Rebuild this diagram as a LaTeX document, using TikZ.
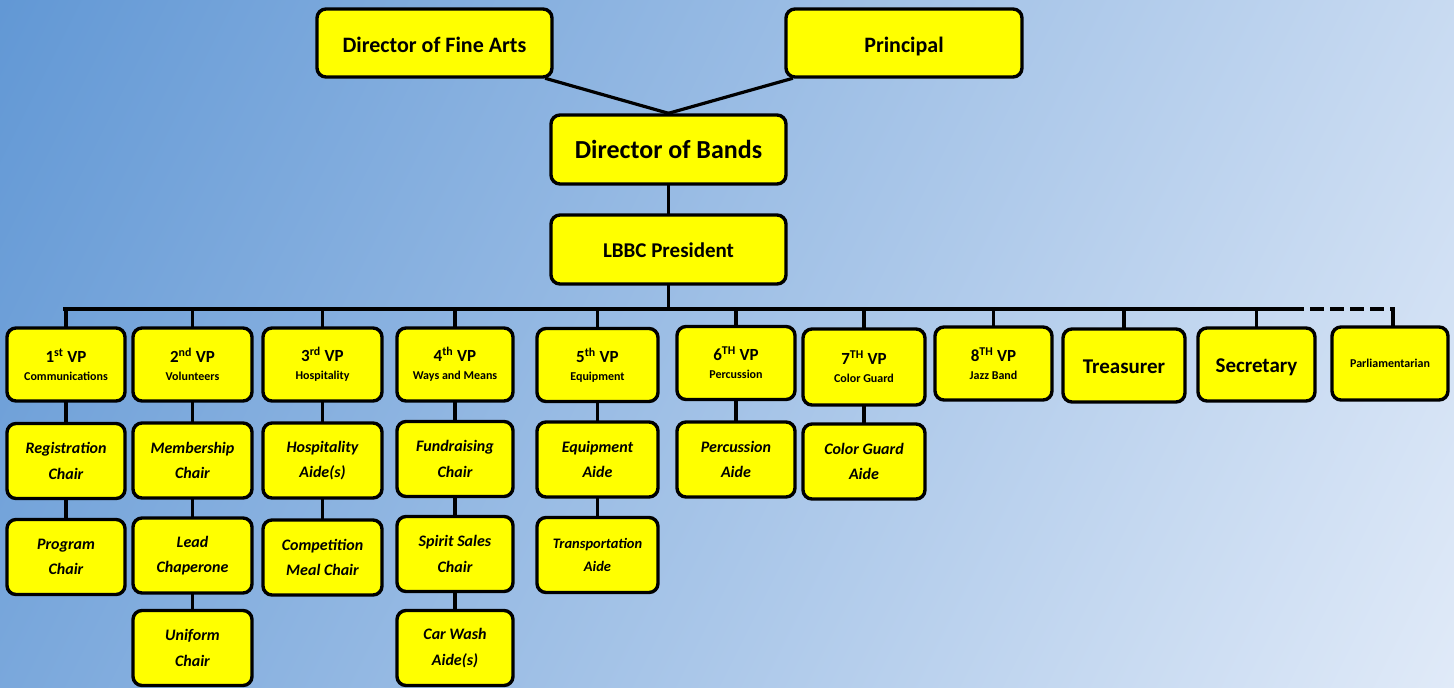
\documentclass[tikz,border=0pt]{standalone}
\usepackage{fontspec}
\setmainfont{Carlito}
\newcommand\fsz[2]{\fontsize{#1}{#2}\selectfont}
\definecolor{bgTL}{RGB}{98,152,213}
\definecolor{bgBR}{RGB}{224,234,248}
\definecolor{boxyellow}{RGB}{255,255,0}
\pgfdeclarehorizontalshading{bgsh}{100bp}{color(0bp)=(bgTL); color(16.5bp)=(bgTL); color(83.5bp)=(bgBR); color(100bp)=(bgBR)}
\tikzset{
  orgbox/.style={draw=black, line width=3.4pt, fill=boxyellow, rounded corners=9pt,
    align=center, inner sep=0pt, text=black},
  topfont/.style={font=\bfseries\fsz{22}{26}, text height=18pt, text depth=0pt},
  vpbox/.style={orgbox, minimum height=73pt, font=\bfseries\fsz{17}{19}},
  bigone/.style={font=\bfseries\fsz{21}{25}, text height=16pt, text depth=0pt},
  chairbox/.style={orgbox, minimum height=75pt, font=\bfseries\itshape\fsz{16}{25.5}},
  link/.style={line width=3.2pt, line cap=rect},
}
\newcommand\subt[1]{{\fsz{12}{14}#1}}
\begin{document}
\begin{tikzpicture}[x=1pt,y=-1pt]
\useasboundingbox (0,0) rectangle (1454,688);
\shade[shading=bgsh, shading angle=-26.6] (0,0) rectangle (1454,688);

% top
\node[orgbox, topfont, minimum width=235pt, minimum height=68pt] (dfa) at (434.5,43) {Director of Fine Arts};
\node[orgbox, topfont, minimum width=236pt, minimum height=68pt] (prin) at (904,43) {Principal};
\node[orgbox, font=\bfseries\fsz{26}{30}, minimum width=235pt, minimum height=69pt] (dob) at (668.5,149.5) {Director of Bands};
\node[orgbox, font=\bfseries\fsz{21}{25}, text height=15pt, text depth=0pt, minimum width=235pt, minimum height=69pt] (pres) at (668.5,249.5) {LBBC President};

\draw[link] ([xshift=-7pt]dfa.south east) -- (dob.north);
\draw[link] ([xshift=7pt]prin.south west) -- (dob.north);
\draw[link] (dob.south) -- (pres.north);

% VP row
\node[vpbox, minimum width=118pt] (vp1) at (66,364.5) {1\textsuperscript{st} VP\\[-1pt]\subt{Communications}};
\node[vpbox, minimum width=119pt] (vp2) at (192.5,364.5) {2\textsuperscript{nd} VP\\[-1pt]\subt{Volunteers}};
\node[vpbox, minimum width=119pt] (vp3) at (322.5,364.5) {3\textsuperscript{rd} VP\\[-1pt]\subt{Hospitality}};
\node[vpbox, minimum width=116pt] (vp4) at (455,364.5) {4\textsuperscript{th} VP\\[-1pt]\subt{Ways and Means}};
\node[vpbox, minimum width=121pt] (vp5) at (597.5,365) {5\textsuperscript{th} VP\\[-1pt]\subt{Equipment}};
\node[vpbox, minimum width=118pt] (vp6) at (736,363) {6\textsuperscript{TH} VP\\[-1pt]\subt{Percussion}};
\node[vpbox, minimum width=122pt, minimum height=76pt] (vp7) at (864,367) {7\textsuperscript{TH} VP\\[-1pt]\subt{Color Guard}};
\node[vpbox, minimum width=117pt] (vp8) at (993.5,363.5) {8\textsuperscript{TH} VP\\[-1pt]\subt{Jazz Band}};
\node[vpbox, bigone, minimum width=122pt] (tre) at (1124,365.5) {Treasurer};
\node[vpbox, bigone, minimum width=117pt] (sec) at (1256.5,364.5) {Secretary};
\node[vpbox, font=\bfseries\fsz{12}{14}, minimum width=116pt] (par) at (1390,363.5) {Parliamentarian};

% bus
\coordinate (busL) at (65,309);
\coordinate (busD) at (1290,309);
\coordinate (busR) at (1393,309);
\draw[link] (busL) -- (busD);
\draw[line width=3.2pt, dash pattern=on 14pt off 6pt] (busD) -- (busR);
\draw[link] (busR) -- (busR |- par.north);
\draw[link] (pres.south) -- (pres.south |- busL);
\foreach \n in {vp1,vp2,vp3,vp4,vp5,vp6,vp7,vp8,tre,sec}
  \draw[link] (\n.north) -- (\n.north |- busL);

% row 2
\node[chairbox, minimum width=118pt] (c1a) at (66,461) {Registration\\Chair};
\node[chairbox, minimum width=119pt] (c2a) at (192.5,460.5) {Membership\\Chair};
\node[chairbox, minimum width=119pt] (c3a) at (322.5,460.5) {Hospitality\\Aide(s)};
\node[chairbox, minimum width=116pt] (c4a) at (455,459) {Fundraising\\Chair};
\node[chairbox, minimum width=121pt] (c5a) at (597.5,459.5) {Equipment\\Aide};
\node[chairbox, minimum width=118pt] (c6a) at (736,459.5) {Percussion\\Aide};
\node[chairbox, minimum width=122pt] (c7a) at (864,461.5) {Color Guard\\Aide};

% row 3
\node[chairbox, minimum width=118pt] (c1b) at (66,557) {Program\\Chair};
\node[chairbox, minimum width=119pt] (c2b) at (192.5,555.5) {Lead\\Chaperone};
\node[chairbox, minimum width=119pt] (c3b) at (322.5,557.5) {Competition\\Meal Chair};
\node[chairbox, minimum width=116pt] (c4b) at (455,554) {Spirit Sales\\Chair};
\node[chairbox, minimum width=121pt, font=\bfseries\itshape\fsz{14.5}{23}] (c5b) at (597.5,555) {Transportation\\Aide};

% row 4
\node[chairbox, minimum width=119pt] (c2c) at (192.5,648) {Uniform\\Chair};
\node[chairbox, minimum width=116pt] (c4c) at (455,648) {Car Wash\\Aide(s)};

% vertical links
\foreach \a/\b in {vp1/c1a,vp2/c2a,vp3/c3a,vp4/c4a,vp5/c5a,vp6/c6a,vp7/c7a,
  c1a/c1b,c2a/c2b,c3a/c3b,c4a/c4b,c5a/c5b,c2b/c2c,c4b/c4c}
  \draw[link] (\a.south) -- (\b.north);
\end{tikzpicture}
\end{document}
